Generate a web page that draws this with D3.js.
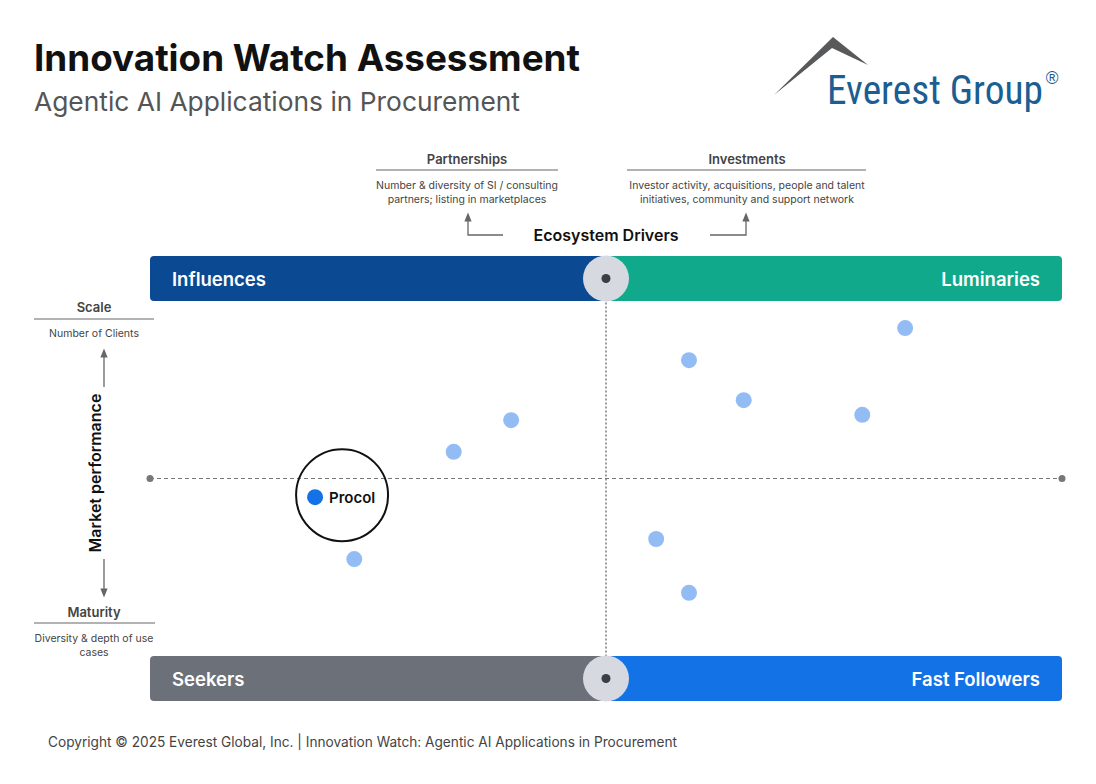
<!DOCTYPE html>
<html><head><meta charset="utf-8">
<script src="https://cdn.jsdelivr.net/npm/d3@7"></script>
<style>body{margin:0;background:#fff;} svg{display:block;font-family:Inter,"Noto Sans",sans-serif;}</style>
</head><body>
<script>
// ---- data ----
const providers = ["Procol","P2","P3","P4","P5","P6","P7","P8","P9","P10"];
const xValues = [18.1, 82.8, 59.1, 65.1, 78.1, 39.6, 33.3, 22.4, 55.5, 59.1];
const yValues = [45.8, 83.8, 76.6, 67.6, 64.3, 63.1, 56.0, 31.9, 36.4, 24.3];
const highlighted = ["Procol"];
const quadrantLabels = ["Influences","Luminaries","Seekers","Fast Followers"];
const titleText = "Innovation Watch Assessment";
const subtitleText = "Agentic AI Applications in Procurement";

const W = 1096, H = 784;
const svg = d3.select("body").append("svg").attr("width", W).attr("height", H);

const x = d3.scaleLinear().domain([0,100]).range([150,1062]);
const y = d3.scaleLinear().domain([0,100]).range([701,256]);
const xm = x(50), ym = y(50);

// title
svg.append("text").attr("x",34).attr("y",71).attr("font-size",37).attr("font-weight",700)
  .attr("fill","#111").attr("textLength",546).attr("lengthAdjust","spacingAndGlyphs").text(titleText);
svg.append("text").attr("x",34).attr("y",111).attr("font-size",26).attr("font-weight",400)
  .attr("fill","#555").attr("textLength",486).attr("lengthAdjust","spacingAndGlyphs").text(subtitleText);

// logo
svg.append("polygon").attr("points","774,95 833,37 868,65 832,48").attr("fill","#58595b");
const logoG = svg.append("g");
const logoT = logoG.append("text").attr("x",0).attr("y",0).attr("font-size",41)
  .attr("font-family","'Liberation Sans Narrow','Roboto Condensed','Open Sans',sans-serif")
  .attr("fill","#1b5e92");
const mainSpan = logoT.append("tspan").text("Everest Group");
logoT.append("tspan").attr("font-size",18).attr("font-family","'Liberation Sans',sans-serif")
  .attr("dx",3).attr("dy",-20).text("®");
const natLen = mainSpan.node().getComputedTextLength();
logoG.attr("transform",`translate(827,104) scale(${216/natLen},1)`);

// ecosystem drivers
const drivers = [
  {t:"Partnerships", cx:467, x1:376, x2:558, d:["Number & diversity of SI / consulting","partners; listing in marketplaces"]},
  {t:"Investments", cx:747, x1:627, x2:866, d:["Investor activity, acquisitions, people and talent","initiatives, community and support network"]}
];
drivers.forEach(dv=>{
  svg.append("text").attr("x",dv.cx).attr("y",164).attr("text-anchor","middle").attr("font-size",13)
    .attr("font-weight",600).attr("fill","#444").text(dv.t);
  svg.append("line").attr("x1",dv.x1).attr("x2",dv.x2).attr("y1",170).attr("y2",170).attr("stroke","#666").attr("stroke-width",1.2);
  dv.d.forEach((s,i)=>svg.append("text").attr("x",dv.cx).attr("y",189+i*14).attr("text-anchor","middle")
    .attr("font-size",10.5).attr("fill","#444").text(s));
});
const defs = svg.append("defs");
defs.append("marker").attr("id","ah").attr("viewBox","0 0 10 10").attr("refX",5).attr("refY",5)
  .attr("markerWidth",7).attr("markerHeight",7).attr("orient","auto-start-reverse")
  .append("path").attr("d","M0,1 L10,5 L0,9 Z").attr("fill","#666");
svg.append("path").attr("d","M503,235 H468 V217").attr("fill","none").attr("stroke","#666").attr("stroke-width",1.3).attr("marker-end","url(#ah)");
svg.append("path").attr("d","M710,235 H746 V217").attr("fill","none").attr("stroke","#666").attr("stroke-width",1.3).attr("marker-end","url(#ah)");
svg.append("text").attr("x",606).attr("y",241).attr("text-anchor","middle").attr("font-size",16)
  .attr("font-weight",600).attr("fill","#111").text("Ecosystem Drivers");

// left axis annotation
svg.append("text").attr("x",94).attr("y",312).attr("text-anchor","middle").attr("font-size",13).attr("font-weight",600).attr("fill","#444").text("Scale");
svg.append("line").attr("x1",34).attr("x2",154).attr("y1",319).attr("y2",319).attr("stroke","#666").attr("stroke-width",1.2);
svg.append("text").attr("x",94).attr("y",337).attr("text-anchor","middle").attr("font-size",10.5).attr("fill","#444").text("Number of Clients");
svg.append("line").attr("x1",104).attr("x2",104).attr("y1",387).attr("y2",353).attr("stroke","#666").attr("stroke-width",1.3).attr("marker-end","url(#ah)");
svg.append("text").attr("transform","translate(101,473) rotate(-90)").attr("text-anchor","middle").attr("font-size",16)
  .attr("font-weight",600).attr("fill","#111").text("Market performance");
svg.append("line").attr("x1",104).attr("x2",104).attr("y1",559).attr("y2",593).attr("stroke","#666").attr("stroke-width",1.3).attr("marker-end","url(#ah)");
svg.append("text").attr("x",94).attr("y",617).attr("text-anchor","middle").attr("font-size",13).attr("font-weight",600).attr("fill","#444").text("Maturity");
svg.append("line").attr("x1",34).attr("x2",155).attr("y1",623).attr("y2",623).attr("stroke","#666").attr("stroke-width",1.2);
svg.append("text").attr("x",94).attr("y",642).attr("text-anchor","middle").attr("font-size",10.5).attr("fill","#444").text("Diversity & depth of use");
svg.append("text").attr("x",94).attr("y",656).attr("text-anchor","middle").attr("font-size",10.5).attr("fill","#444").text("cases");

// quadrant bars
const barH = 45;
const bars = [
  {x0:0,x1:50,yTop:100,c:"#0b4a92",label:quadrantLabels[0],anchor:"start"},
  {x0:50,x1:100,yTop:100,c:"#10a98b",label:quadrantLabels[1],anchor:"end"},
  {x0:0,x1:50,yTop:0,c:"#6c7079",label:quadrantLabels[2],anchor:"start"},
  {x0:50,x1:100,yTop:0,c:"#1372e6",label:quadrantLabels[3],anchor:"end"}
];
bars.forEach(b=>{
  const top = b.yTop===100 ? y(100) : y(0)-barH;
  const left = x(b.x0), right = x(b.x1);
  const r = 4;
  let p;
  if (b.anchor==="start") {
    p = `M${left+r},${top} H${right} V${top+barH} H${left+r} Q${left},${top+barH} ${left},${top+barH-r} V${top+r} Q${left},${top} ${left+r},${top} Z`;
  } else {
    p = `M${left},${top} H${right-r} Q${right},${top} ${right},${top+r} V${top+barH-r} Q${right},${top+barH} ${right-r},${top+barH} H${left} Z`;
  }
  svg.append("path").attr("d",p).attr("fill",b.c);
  svg.append("text").attr("x", b.anchor==="start" ? left+22 : right-22).attr("y",top+30)
    .attr("text-anchor",b.anchor).attr("font-size",18.5).attr("font-weight",600).attr("fill","#fff").text(b.label);
});

// dividers
svg.append("line").attr("x1",x(0)).attr("x2",x(100)).attr("y1",ym).attr("y2",ym)
  .attr("stroke","#777").attr("stroke-width",1.2).attr("stroke-dasharray","4,3");
[x(0),x(100)].forEach(cx=>svg.append("circle").attr("cx",cx).attr("cy",ym).attr("r",3.5).attr("fill","#777"));
const vTop = y(100)+barH/2, vBot = y(0)-barH/2;
svg.append("line").attr("x1",xm).attr("x2",xm).attr("y1",vTop).attr("y2",vBot)
  .attr("stroke","#666").attr("stroke-width",1.3).attr("stroke-dasharray","2,2");
[vTop,vBot].forEach(cy=>{
  svg.append("circle").attr("cx",xm).attr("cy",cy).attr("r",23).attr("fill","#d7d9e0");
  svg.append("circle").attr("cx",xm).attr("cy",cy).attr("r",4.5).attr("fill","#3b3e45");
});

// points
const pts = providers.map((n,i)=>({n,x:xValues[i],y:yValues[i],h:highlighted.includes(n)}));
svg.append("g").selectAll("circle").data(pts.filter(d=>!d.h)).join("circle")
  .attr("cx",d=>x(d.x)).attr("cy",d=>y(d.y)).attr("r",8).attr("fill","#94bcf4");
pts.filter(d=>d.h).forEach(d=>{
  const cx = x(d.x), cy = y(d.y);
  svg.append("circle").attr("cx",cx+27).attr("cy",cy-2).attr("r",46).attr("fill","none").attr("stroke","#111").attr("stroke-width",2);
  svg.append("circle").attr("cx",cx).attr("cy",cy).attr("r",8).attr("fill","#1471e6");
  svg.append("text").attr("x",cx+14).attr("y",cy+6).attr("font-size",15).attr("font-weight",600).attr("fill","#111").text(d.n);
});

// footer
svg.append("text").attr("x",48).attr("y",747).attr("font-size",14).attr("fill","#444")
  .attr("textLength",629).attr("lengthAdjust","spacingAndGlyphs")
  .text("Copyright \u00A9 2025 Everest Global, Inc. | Innovation Watch: Agentic AI Applications in Procurement");
</script>
</body></html>
